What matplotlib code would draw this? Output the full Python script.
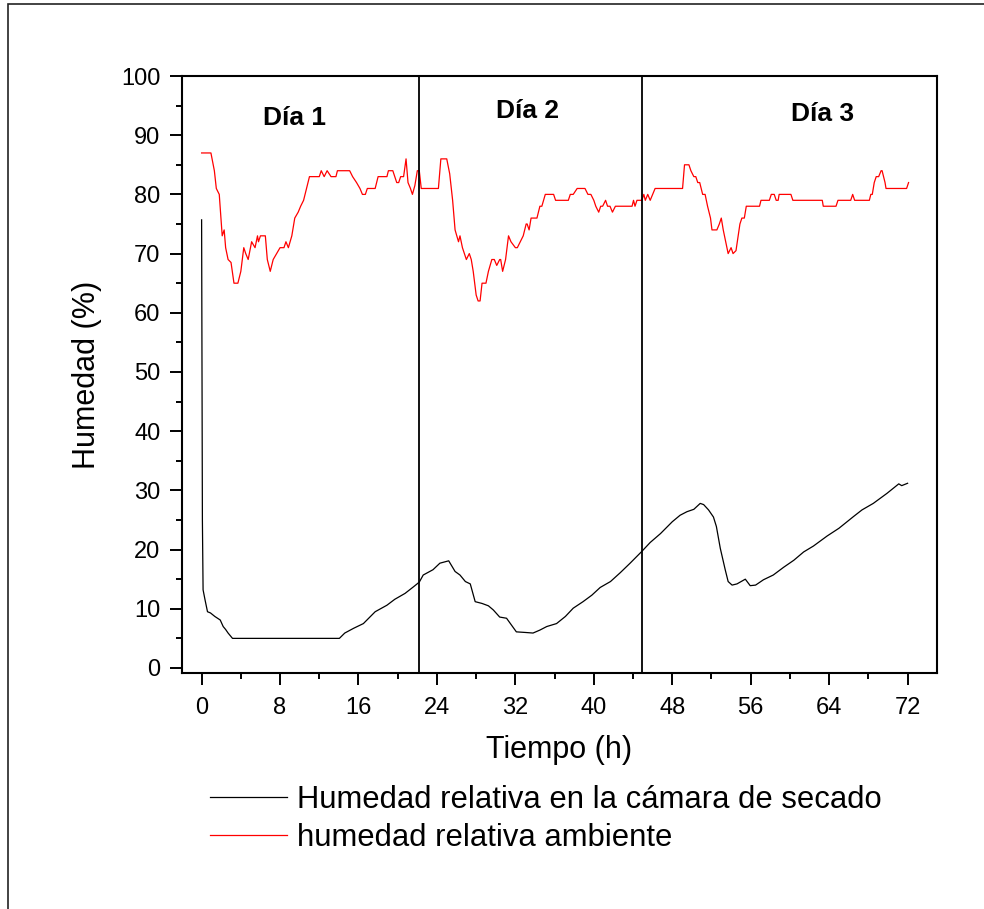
import matplotlib
matplotlib.use("Agg")
import matplotlib.pyplot as plt
from matplotlib.patches import Rectangle
from matplotlib.ticker import MultipleLocator

plt.rcParams['font.family'] = ['Liberation Sans', 'DejaVu Sans']

# Ambient relative humidity (red)
amb_t = [0, 0.95, 1.3, 1.5, 1.8, 2.1, 2.3, 2.45, 2.7, 3.0, 3.3, 3.7, 4.0, 4.3, 4.5, 4.75,
         5.1, 5.45, 5.7, 5.8, 6.0, 6.5, 6.7, 7.0, 7.3, 7.65, 8.0, 8.4, 8.6, 8.85, 9.2, 9.5,
         9.85, 10.1, 10.4, 11.0, 12.0, 12.2, 12.5, 12.8, 13.2, 13.7, 13.85, 15.1, 15.4, 15.8,
         16.15, 16.4, 16.7, 16.9, 17.7, 18.0, 18.9, 19.05, 19.5, 19.9, 20.1, 20.3, 20.6, 20.85,
         21.05, 21.3, 21.5, 21.75, 22.0, 22.2, 22.4, 24.15, 24.4, 25.0, 25.3, 25.6, 25.85, 26.2,
         26.35, 26.6, 27.0, 27.3, 27.5, 27.7, 28.0, 28.2, 28.4, 28.6, 29.0, 29.25, 29.6, 29.85,
         30.1, 30.4, 30.5, 30.7, 31.0, 31.3, 31.55, 32.0, 32.2, 32.5, 32.8, 33.1, 33.2, 33.4,
         33.6, 34.2, 34.5, 34.7, 35.05, 35.9, 36.1, 37.4, 37.6, 37.9, 38.3, 39.1, 39.4, 39.7,
         40.0, 40.2, 40.5, 40.7, 40.9, 41.2, 41.4, 41.65, 41.9, 42.2, 43.9, 44.05, 44.2, 44.4,
         44.9, 45.1, 45.25, 45.5, 45.75, 46.0, 46.25, 49.05, 49.25, 49.7, 49.9, 50.2, 50.4, 50.6,
         50.8, 51.1, 51.35, 51.6, 51.9, 52.05, 52.55, 52.8, 53.0, 53.2, 53.45, 53.7, 54.0, 54.2,
         54.5, 54.9, 55.1, 55.35, 55.55, 56.9, 57.05, 57.9, 58.1, 58.4, 58.6, 58.8, 58.9, 60.1,
         60.3, 63.3, 63.4, 64.7, 64.9, 66.2, 66.4, 66.6, 68.1, 68.25, 68.4, 68.6, 68.8, 69.05,
         69.3, 69.4, 69.7, 69.8, 71.9, 72.1]
amb_v = [87, 87, 84, 81, 80, 73, 74, 71, 69, 68.5, 65, 65, 67, 71, 70, 69,
         72, 71, 73, 72, 73, 73, 69, 67, 69, 70, 71, 71, 72, 71, 73, 76,
         77, 78, 79, 83, 83, 84, 83, 84, 83, 83, 84, 84, 83, 82,
         81, 80, 80, 81, 81, 83, 83, 84, 84, 82, 82, 83, 83, 86,
         82, 81, 80, 81.5, 84, 84, 81, 81, 86, 86, 83.5, 79, 74, 72,
         73, 71, 69, 70, 69, 67, 63, 62, 62, 65, 65, 67, 69, 69,
         68, 69, 69, 67, 69, 73, 72, 71, 71, 72, 73, 75, 75, 74,
         76, 76, 78, 78, 80, 80, 79, 79, 80, 80, 81, 81, 80, 80,
         79, 78, 77, 78, 78, 79, 78, 78, 77, 78, 78, 79, 78, 79,
         79, 80, 79, 80, 79, 80, 81, 81, 85, 85, 84, 83, 83, 82,
         82, 80, 80, 78, 76, 74, 74, 75, 76, 74, 72, 70, 71, 70,
         70.5, 75, 76, 76, 78, 78, 79, 79, 80, 80, 79, 79, 80, 80,
         79, 79, 78, 78, 79, 79, 80, 79, 79, 80, 80, 82, 83, 83,
         84, 84, 82, 81, 81, 82]

# Relative humidity in the drying chamber (black)
cam_t = [0, 0.08, 0.15, 0.35, 0.6, 0.9, 1.35, 1.9, 2.2, 2.45, 2.7, 3.15, 14.05, 14.6, 15.5,
         16.5, 17.7, 18.9, 19.7, 20.75, 21.6, 22.2, 22.6, 23.6, 24.3, 25.2, 25.85, 26.35,
         26.9, 27.4, 27.9, 28.6, 29.25, 29.75, 30.4, 31.1, 32.1, 33.0, 33.8, 34.5, 35.2, 36.2,
         37.1, 37.9, 38.9, 39.8, 40.65, 41.7, 42.7, 43.7, 44.9, 45.75, 46.8, 48.0, 48.8, 49.5,
         50.2, 50.85, 51.2, 51.7, 52.2, 52.5, 52.9, 53.4, 53.7, 54.1, 54.6, 55.45, 55.95, 56.5,
         57.3, 58.3, 59.35, 60.4, 61.4, 62.4, 63.8, 65.0, 66.5, 67.35, 68.5, 69.9, 71.1, 71.4,
         72.0]
cam_v = [75.7, 25, 13.2, 11.5, 9.5, 9.3, 8.7, 8.1, 7.0, 6.5, 5.9, 5.0, 5.0, 5.9, 6.7,
         7.5, 9.5, 10.6, 11.6, 12.6, 13.7, 14.5, 15.7, 16.6, 17.7, 18.1, 16.3, 15.7,
         14.6, 14.2, 11.2, 10.9, 10.5, 9.8, 8.6, 8.4, 6.1, 6.0, 5.9, 6.4, 7.0, 7.5,
         8.7, 10.1, 11.2, 12.3, 13.6, 14.6, 16.1, 17.7, 19.7, 21.2, 22.7, 24.7, 25.8, 26.4,
         26.8, 27.8, 27.6, 26.7, 25.5, 23.9, 20.2, 16.6, 14.6, 14.0, 14.2, 15.0, 13.9, 14.0,
         14.9, 15.7, 17.0, 18.2, 19.6, 20.6, 22.3, 23.6, 25.6, 26.7, 27.8, 29.5, 31.1, 30.8,
         31.2]

day_bounds = [22.2, 44.9]
day_labels = ["Día 1", "Día 2", "Día 3"]
day_label_x = [9.5, 33.2, 63.3]
day_label_y = [91.7, 92.9, 92.4]

series_labels = ["Humedad relativa en la cámara de secado", "humedad relativa ambiente"]
x_ticks = [0, 8, 16, 24, 32, 40, 48, 56, 64, 72]
y_ticks = [0, 10, 20, 30, 40, 50, 60, 70, 80, 90, 100]

W, H = 984, 909
fig = plt.figure(figsize=(W / 100, H / 100), dpi=100)
ax = fig.add_axes([182 / W, 1 - 673 / H, 755 / W, 597 / H])

ax.plot(cam_t, cam_v, color='black', lw=0.9, label=series_labels[0])
ax.plot(amb_t, amb_v, color='red', lw=0.9, label=series_labels[1])
for b in day_bounds:
    ax.axvline(b, color='black', lw=1.3)
for lab, tx, ty in zip(day_labels, day_label_x, day_label_y):
    ax.text(tx, ty, lab, ha='center', va='baseline', fontsize=19, fontweight='bold')

ax.set_xlim(-2, 75)
ax.set_ylim(-0.85, 100)
ax.set_xticks(x_ticks)
ax.set_yticks(y_ticks)
ax.xaxis.set_minor_locator(MultipleLocator(4))
ax.yaxis.set_minor_locator(MultipleLocator(5))
ax.tick_params(which='major', direction='out', length=8.6, width=1.4, labelsize=17, pad=7)
ax.tick_params(axis='x', which='major', pad=9)
ax.tick_params(which='minor', direction='out', length=4.3, width=1.4)
for s in ax.spines.values():
    s.set_linewidth(1.5)

ax.set_xlabel("Tiempo (h)", fontsize=22, labelpad=11)
ax.set_ylabel("Humedad (%)", fontsize=22, labelpad=14)

ax.legend(loc='upper left', bbox_to_anchor=(210 / W, 1 - 785 / H), bbox_transform=fig.transFigure,
          frameon=False, fontsize=22.3, handlelength=2.5, handletextpad=0.3,
          labelspacing=0.25, borderaxespad=0, borderpad=0)

fig.patches.append(Rectangle((8 / W, -0.1), 2, 1.1 - 4 / H, transform=fig.transFigure,
                             fill=False, edgecolor='#222222', lw=1.2))

fig.savefig("out.png", dpi=100)
